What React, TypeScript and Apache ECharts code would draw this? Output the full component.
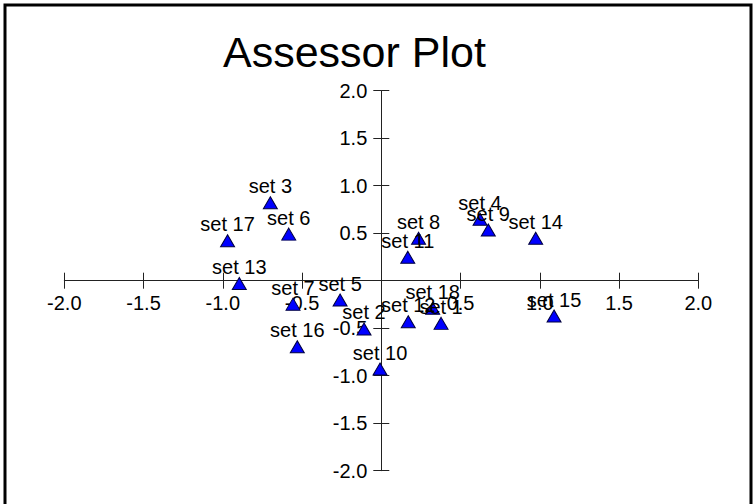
import React, { useEffect, useRef } from "react";
import * as echarts from "echarts";

const setNames = [
  "set 1", "set 2", "set 3", "set 4", "set 5", "set 6", "set 7", "set 8", "set 9",
  "set 10", "set 11", "set 12", "set 13", "set 14", "set 15", "set 16", "set 17", "set 18",
];
const xValues = [
  0.377, -0.109, -0.70, 0.623, -0.26, -0.584, -0.557, 0.235, 0.675,
  -0.008, 0.167, 0.170, -0.896, 0.974, 1.09, -0.53, -0.97, 0.324,
];
const yValues = [
  -0.449, -0.508, 0.82, 0.646, -0.203, 0.49, -0.247, 0.446, 0.534,
  -0.93, 0.246, -0.432, -0.03, 0.446, -0.372, -0.695, 0.42, -0.29,
];
const axisMin = -2;
const axisMax = 2;
const axisStep = 0.5;
const titleText = "Assessor Plot";

const FONT = "'Liberation Sans', Arial, Helvetica, sans-serif";

const GRID_LEFT = 64.3;
const GRID_RIGHT = 57.7;
const GRID_TOP = 90.7;
const GRID_BOTTOM = 33.3;
const W = 756;
const H = 504;
// axes cross at the data origin: shift them from the grid edge into the middle
const X_AXIS_SHIFT = -((H - GRID_TOP - GRID_BOTTOM) * (0 - axisMin)) / (axisMax - axisMin);
const Y_AXIS_SHIFT = -((W - GRID_LEFT - GRID_RIGHT) * (0 - axisMin)) / (axisMax - axisMin);

export default function App() {
  const ref = useRef<HTMLDivElement>(null);
  useEffect(() => {
    if (!ref.current) return;
    const chart = echarts.init(ref.current, undefined, { renderer: "svg" });
    const lineColor = "#222";
    const baseAxis = {
      type: "value" as const,
      min: axisMin,
      max: axisMax,
      interval: axisStep,
      splitLine: { show: false },
    };
    const labelStyle = {
      fontSize: 20,
      color: "#000",
      fontFamily: FONT,
      formatter: (v: number) => (Math.abs(v) < 1e-9 ? "" : v.toFixed(1)),
    };
    chart.setOption({
      animation: false,
      backgroundColor: "#fff",
      title: {
        text: titleText,
        left: 223,
        top: 30,
        padding: 0,
        textStyle: {
          fontSize: 43,
          lineHeight: 43,
          fontWeight: "normal",
          color: "#000",
          fontFamily: FONT,
        },
      },
      graphic: [
        {
          type: "rect",
          shape: { x: 5, y: 5, width: 746, height: 560 },
          style: { fill: "none", stroke: "#000", lineWidth: 3 },
          silent: true,
        },
      ],
      grid: {
        left: GRID_LEFT,
        right: GRID_RIGHT,
        top: GRID_TOP,
        bottom: GRID_BOTTOM,
        outerBoundsMode: "none",
      },
      xAxis: [
        {
          ...baseAxis,
          position: "bottom",
          offset: X_AXIS_SHIFT,
          axisLine: { show: true, onZero: false, lineStyle: { color: lineColor, width: 1 } },
          axisTick: { show: true, length: 8, lineStyle: { color: lineColor } },
          axisLabel: { ...labelStyle, margin: 12 },
        },
        {
          ...baseAxis,
          position: "bottom",
          offset: X_AXIS_SHIFT,
          axisLine: { show: false, onZero: false },
          axisTick: { show: true, inside: true, length: 8, lineStyle: { color: lineColor } },
          axisLabel: { show: false },
        },
      ],
      yAxis: [
        {
          ...baseAxis,
          position: "left",
          offset: Y_AXIS_SHIFT,
          axisLine: { show: true, onZero: false, lineStyle: { color: lineColor, width: 1 } },
          axisTick: { show: true, length: 8, lineStyle: { color: lineColor } },
          axisLabel: { ...labelStyle, margin: 14 },
        },
        {
          ...baseAxis,
          position: "left",
          offset: Y_AXIS_SHIFT,
          axisLine: { show: false, onZero: false },
          axisTick: { show: true, inside: true, length: 8, lineStyle: { color: lineColor } },
          axisLabel: { show: false },
        },
      ],
      series: [
        {
          type: "scatter",
          xAxisIndex: 0,
          yAxisIndex: 0,
          symbol: "triangle",
          symbolSize: [14, 12],
          itemStyle: { color: "#0000ff", borderColor: "#000040", borderWidth: 1, opacity: 1 },
          label: {
            show: true,
            position: "top",
            distance: 0,
            offset: [-4, 2],
            formatter: "{b}",
            fontSize: 20,
            color: "#000",
            fontFamily: FONT,
          },
          labelLayout: { hideOverlap: false },
          emphasis: { disabled: true },
          data: setNames.map((n, i) => ({ name: n, value: [xValues[i], yValues[i]] })),
        },
      ],
    });
    return () => chart.dispose();
  }, []);
  return (
    <div
      ref={ref}
      style={{ position: "fixed", left: 0, top: 0, width: W, height: H, background: "#fff" }}
    />
  );
}
